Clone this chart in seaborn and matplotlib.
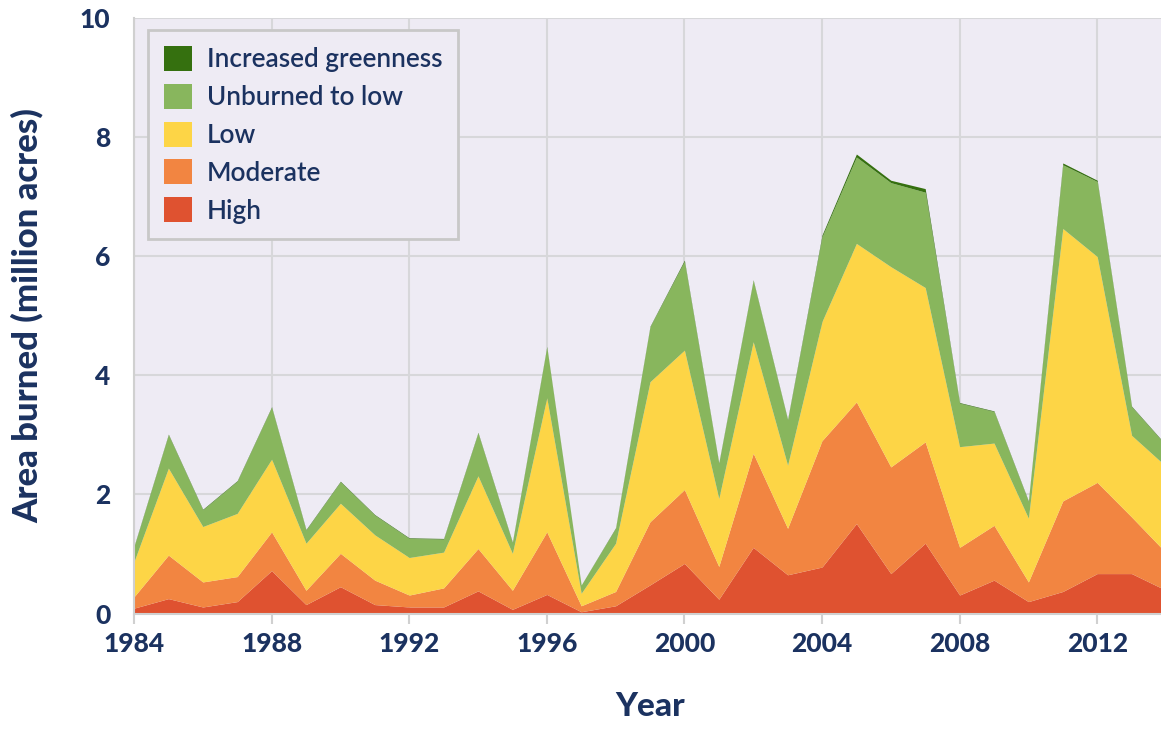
import numpy as np
import pandas as pd
import seaborn as sns
import matplotlib.pyplot as plt
from matplotlib.patches import Patch

years = list(range(1984, 2015))

high = [0.09, 0.25, 0.11, 0.20, 0.72, 0.15, 0.45, 0.15, 0.11, 0.11, 0.38,
        0.07, 0.32, 0.03, 0.13, 0.48, 0.84, 0.24, 1.11, 0.65, 0.78, 1.51,
        0.67, 1.18, 0.31, 0.56, 0.20, 0.37, 0.67, 0.67, 0.39]
moderate = [0.19, 0.73, 0.42, 0.42, 0.65, 0.24, 0.56, 0.41, 0.20, 0.32, 0.71,
            0.32, 1.05, 0.10, 0.24, 1.06, 1.24, 0.55, 1.58, 0.78, 2.12, 2.04,
            1.79, 1.70, 0.80, 0.92, 0.33, 1.52, 1.53, 0.95, 0.63]
low = [0.59, 1.46, 0.93, 1.06, 1.22, 0.79, 0.84, 0.76, 0.63, 0.60, 1.22,
       0.62, 2.25, 0.21, 0.81, 2.35, 2.34, 1.14, 1.87, 1.06, 2.00, 2.66,
       3.36, 2.59, 1.69, 1.38, 1.07, 4.57, 3.79, 1.37, 1.45]
unburned = [0.25, 0.56, 0.28, 0.54, 0.87, 0.22, 0.36, 0.33, 0.32, 0.22, 0.72,
            0.18, 0.85, 0.14, 0.25, 0.92, 1.49, 0.59, 1.03, 0.76, 1.42, 1.45,
            1.41, 1.60, 0.73, 0.53, 0.28, 1.07, 1.26, 0.48, 0.35]
greenness = [0.01, 0.01, 0.01, 0.01, 0.01, 0.01, 0.01, 0.01, 0.01, 0.01, 0.01,
             0.01, 0.01, 0.00, 0.01, 0.01, 0.02, 0.01, 0.01, 0.01, 0.03, 0.05,
             0.04, 0.06, 0.01, 0.01, 0.01, 0.03, 0.02, 0.01, 0.01]

labels = ["High", "Moderate", "Low", "Unburned to low", "Increased greenness"]
colors = ["#df5230", "#f28541", "#fdd546", "#88b65d", "#35700f"]

df = pd.DataFrame({"year": years, "High": high, "Moderate": moderate,
                   "Low": low, "Unburned to low": unburned,
                   "Increased greenness": greenness})

navy = "#1b3260"
sns.set_theme(style="darkgrid", rc={
    "axes.facecolor": "#eeebf4",
    "grid.color": "#d7d7da",
    "grid.linewidth": 1.5,
    "axes.edgecolor": "#d0d0d0",
})
plt.rcParams["font.family"] = ["Lato", "DejaVu Sans"]

fig = plt.figure(figsize=(11.61, 7.31), dpi=100)
ax = fig.add_axes([0.1154, 0.1607, 0.8889, 0.8153])

ax.stackplot(df["year"], [df[c] for c in labels], colors=colors,
             linewidth=0, antialiased=True)

ax.set_xlim(1984, 2014)
ax.set_ylim(0, 10)
ax.set_xticks(range(1984, 2014, 4))
ax.set_yticks(range(0, 11, 2))
ax.tick_params(axis="x", colors="#d0d0d0", length=7, width=1.5,
               labelcolor=navy, labelsize=19, pad=6, bottom=True)
ax.tick_params(axis="y", length=0, labelcolor=navy, labelsize=19, pad=17)
for t in ax.get_xticklabels() + ax.get_yticklabels():
    t.set_fontweight("black")

for side in ["top", "right"]:
    ax.spines[side].set_visible(False)
ax.spines["left"].set_linewidth(1.5)
ax.spines["bottom"].set_linewidth(1.5)

ax.set_xlabel("Year", fontsize=24, fontweight="black", color=navy, labelpad=26)
ax.set_ylabel("Area burned (million acres)", fontsize=25, fontweight="black",
              color=navy, labelpad=26)

handles = [Patch(facecolor=c, edgecolor="none") for c in colors[::-1]]
leg = ax.legend(handles, labels[::-1], loc="upper left",
                bbox_to_anchor=(0.0136, 0.979), borderaxespad=0,
                fontsize=18.8, handlelength=1.1, handleheight=1.1,
                handletextpad=0.54, labelspacing=0.44, borderpad=0.6,
                frameon=True, fancybox=False, framealpha=1)
leg.get_frame().set_edgecolor("#c8c8c8")
leg.get_frame().set_linewidth(2)
for t in leg.get_texts():
    t.set_color(navy)
    t.set_fontweight("semibold")

fig.savefig("out.png", dpi=100)
